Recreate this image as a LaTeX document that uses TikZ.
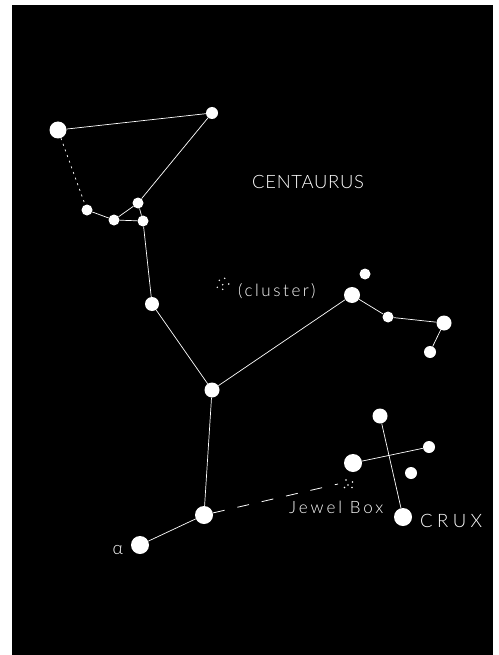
\documentclass[tikz,border=0pt]{standalone}
\usepackage{fontspec}
\setmainfont{Lato}[UprightFont=* Light]
\newfontfamily\centfont{Lato}[UprightFont=* Light,LetterSpace=4]
\newfontfamily\clusfont{Lato}[UprightFont=* Light,LetterSpace=15]
\newfontfamily\jewelfont{Lato}[UprightFont=* Light,LetterSpace=17.5]
\newfontfamily\cruxfont{Lato}[UprightFont=* Light,LetterSpace=24]
\begin{document}
\begin{tikzpicture}[x=1pt,y=-1pt,
  star/.style={circle,fill=white,draw=none,inner sep=0pt,minimum size=#1},
  link/.style={white,line width=0.7pt},
  faint/.style={white,line width=0.7pt,dash pattern=on 2pt off 4pt},
  dashlink/.style={white,line width=0.8pt,dash pattern=on 12pt off 13pt},
  lbl/.style={text=white,inner sep=0pt,anchor=base west},
  dot/.style={circle,fill=white,inner sep=0pt,minimum size=1.6pt}]
\useasboundingbox (0,0) rectangle (498,655);
\fill[white] (0,0) rectangle (498,655);
\fill[black] (12,5) rectangle (493,655);
% stars
\node[star=17pt] (A) at (58,130) {};
\node[star=12pt] (B) at (212,113) {};
\node[star=11pt] (C) at (87,210) {};
\node[star=11pt] (D) at (114,220) {};
\node[star=11pt] (E) at (138,203) {};
\node[star=11pt] (F) at (143,221) {};
\node[star=14pt] (G) at (152,304) {};
\node[star=15pt] (H) at (212,390) {};
\node[star=16pt] (I) at (352,295) {};
\node[star=11pt] (J) at (365,274) {};
\node[star=11pt] (K) at (388,317) {};
\node[star=15pt] (L) at (444,323) {};
\node[star=12pt] (M) at (430,352) {};
\node[star=18pt] (N) at (204,515) {};
\node[star=18pt] (O) at (140,545) {};
\node[star=15pt] (P) at (380,416) {};
\node[star=18pt] (Q) at (353,463) {};
\node[star=12pt] (R) at (429,447) {};
\node[star=12pt] (S) at (411,473) {};
\node[star=18pt] (T) at (403,517) {};
\coordinate (jewel) at (338,484);
% connectors
\draw[link] (A) -- (B);
\draw[faint] (A) -- (C);
\draw[link] (C) -- (D);
\draw[link] (D) -- (E);
\draw[link] (D) -- (F);
\draw[link] (E) -- (F);
\draw[link] (E) -- (B);
\draw[link] (F) -- (G);
\draw[link] (G) -- (H);
\draw[link] (H) -- (I);
\draw[link] (I) -- (K);
\draw[link] (K) -- (L);
\draw[link] (L) -- (M);
\draw[link] (H) -- (N);
\draw[link] (N) -- (O);
\draw[dashlink] (N) -- (jewel);
\draw[link] (P) -- (T);
\draw[link] (Q) -- (R);
% clusters
\foreach \p [count=\i] in {(224.7,278.3),(219.3,280.3),(228.7,284),(222.7,284.7),(217.3,287.3),(222.7,289.3)}
  \node[dot] (c\i) at \p {};
\foreach \p [count=\i] in {(346,480),(352.5,482),(348,485),(352,487.5),(344.5,487.5)}
  \node[dot] (j\i) at \p {};
% labels
\node[lbl,font=\centfont\fontsize{18.4}{20}\selectfont] (centaurus) at (252,188.5) {CENTAURUS};
\node[lbl,font=\clusfont\fontsize{17}{19}\selectfont] (cluster) at (238,296) {(cluster)};
\node[lbl,font=\jewelfont\fontsize{17}{19}\selectfont] (jewelbox) at (289,513) {Jewel Box};
\node[lbl,font=\cruxfont\fontsize{18.5}{20}\selectfont] (crux) at (420,527.3) {CRUX};
\node[lbl,font=\fontsize{18}{20}\selectfont] (alpha) at (112.5,554) {α};
\end{tikzpicture}
\end{document}
